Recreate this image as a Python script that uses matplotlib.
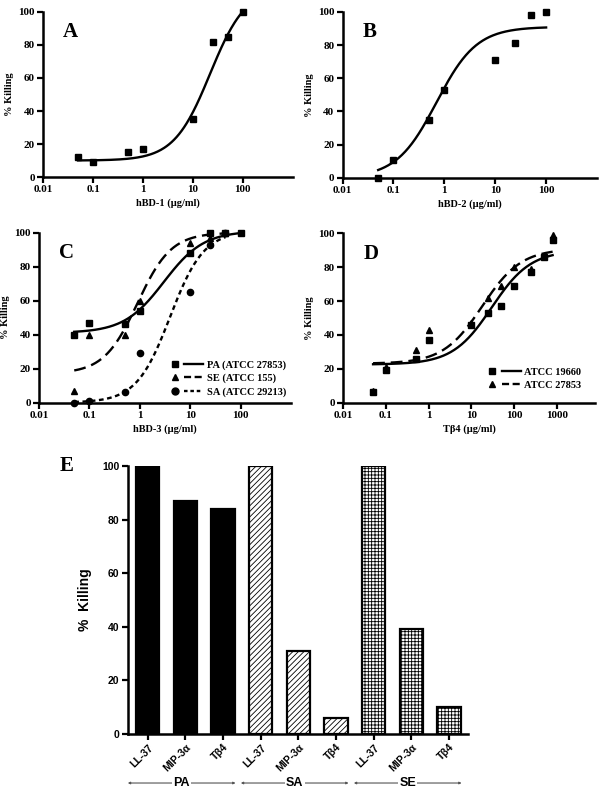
import numpy as np
import matplotlib.pyplot as plt
from matplotlib.lines import Line2D
from matplotlib.legend_handler import HandlerTuple
from matplotlib.ticker import NullLocator

# fit params are [bottom, top, EC50, hill] of the sigmoid fit
# panel A, hBD-1
a_conc = [0.05, 0.1, 0.5, 1, 10, 25, 50, 100]
a_kill = [12, 9, 15, 17, 35, 82, 85, 100]
a_fit = [10, 115, 22, 1.2]

# panel B, hBD-2
b_conc = [0.05, 0.1, 0.5, 1, 10, 25, 50, 100]
b_kill = [0, 11, 35, 53, 71, 81, 98, 100]
b_fit = [0, 91, 0.7, 1.1]

# panel C, hBD-3
c_pa_conc = [0.05, 0.1, 0.5, 1, 10, 25, 50, 100]
c_pa_kill = [40, 47, 46, 54, 88, 100, 100, 100]
c_pa_fit = [41, 101, 3, 1.1]
c_se_conc = [0.05, 0.1, 0.5, 1, 10, 25, 50]
c_se_kill = [7, 40, 40, 60, 94, 97, 100]
c_se_fit = [17, 100, 0.9, 1.3]
c_sa_conc = [0.05, 0.1, 0.5, 1, 10, 25, 50]
c_sa_kill = [0, 1, 6, 29, 65, 93, 100]
c_sa_fit = [0, 101, 4, 1.3]
c_labels = ['PA (ATCC 27853)', 'SE (ATCC 155)', 'SA (ATCC 29213)']

# panel D, Tb4
d_sq_conc = [0.05, 0.1, 0.5, 1, 10, 25, 50, 100, 250, 500, 800]
d_sq_kill = [6, 19, 26, 37, 46, 53, 57, 69, 77, 86, 96]
d_sq_fit = [22.5, 90, 30, 0.95]
d_tr_conc = [0.05, 0.1, 0.5, 1, 10, 25, 50, 100, 250, 800]
d_tr_kill = [7, 21, 31, 43, 47, 62, 69, 80, 79, 99]
d_tr_fit = [23, 91, 18, 0.95]
d_labels = ['ATCC 19660', 'ATCC 27853']

# panel E
e_peptides = ['LL-37', 'MIP-3α', 'Tβ4'] * 3
e_groups = ['PA', 'SA', 'SE']
e_kill = [100, 87, 84, 100, 31, 6, 100, 39, 10]

SERIF = 'Liberation Serif'
SANS = 'Liberation Sans'


def sigmoid(x, p):
    bottom, top, ec50, hill = p
    return bottom + (top - bottom) / (1 + (ec50 / x) ** hill)


def fit_line(ax, conc, p, ls):
    xs = np.logspace(np.log10(conc[0]), np.log10(conc[-1]), 200)
    ax.plot(xs, sigmoid(xs, p), color='black', lw=1.7, ls=ls, clip_on=False)


def style_log_axes(ax, xlabel, letter, xmax=1000, xticks=(0.01, 0.1, 1, 10, 100)):
    ax.set_xscale('log')
    ax.set_xlim(0.01, xmax)
    ax.set_ylim(0, 100)
    ax.set_xticks(list(xticks))
    ax.set_xticklabels([('%g' % t) for t in xticks])
    ax.xaxis.set_minor_locator(NullLocator())
    ax.set_yticks([0, 20, 40, 60, 80, 100])
    for s in ['top', 'right']:
        ax.spines[s].set_visible(False)
    for s in ['left', 'bottom']:
        ax.spines[s].set_linewidth(1.8)
    ax.tick_params(width=1.6, length=4, labelsize=8, pad=2)
    for lab in ax.get_xticklabels() + ax.get_yticklabels():
        lab.set_fontfamily(SERIF)
        lab.set_fontweight('bold')
    ax.set_xlabel(xlabel, fontsize=7.5, fontfamily=SERIF, fontweight='bold', labelpad=3)
    ax.set_ylabel('% Killing', fontsize=7.5, fontfamily=SERIF, fontweight='bold', labelpad=3)
    ax.text(0.08, 0.94, letter, transform=ax.transAxes, fontsize=15,
            fontfamily=SERIF, fontweight='bold', va='top')


fig = plt.figure(figsize=(6, 7.94), dpi=100)

# A
ax = fig.add_axes([0.072, 0.777, 0.416, 0.208])
ax.plot(a_conc, a_kill, 's', color='black', ms=5, clip_on=False)
fit_line(ax, a_conc, a_fit, '-')
style_log_axes(ax, 'hBD-1 (µg/ml)', 'A')

# B
ax = fig.add_axes([0.571, 0.776, 0.424, 0.209])
ax.plot(b_conc, b_kill, 's', color='black', ms=5, clip_on=False)
fit_line(ax, b_conc, b_fit, '-')
style_log_axes(ax, 'hBD-2 (µg/ml)', 'B')

# C
ax = fig.add_axes([0.065, 0.493, 0.420, 0.214])
ax.plot(c_pa_conc, c_pa_kill, 's', color='black', ms=5, clip_on=False)
ax.plot(c_se_conc, c_se_kill, '^', color='black', ms=5, clip_on=False)
ax.plot(c_sa_conc, c_sa_kill, 'o', color='black', ms=4.5, clip_on=False)
fit_line(ax, c_pa_conc, c_pa_fit, '-')
fit_line(ax, c_se_conc, c_se_fit, (0, (5, 2.5)))
fit_line(ax, c_sa_conc, c_sa_fit, (0, (2, 1.5)))
style_log_axes(ax, 'hBD-3 (µg/ml)', 'C')
handles = []
for mk, ls in zip(['s', '^', 'o'], ['-', (0, (3, 1.5)), (0, (1.5, 1.2))]):
    m = Line2D([], [], marker=mk, color='black', ls='none', ms=5)
    l = Line2D([], [], color='black', lw=1.7, ls=ls)
    handles.append((m, l))
ax.legend(handles, c_labels, handler_map={tuple: HandlerTuple(ndivide=None, pad=0)},
          loc='lower right', bbox_to_anchor=(1.02, -0.02), frameon=False, handlelength=3.6,
          handletextpad=0.4, labelspacing=0.35,
          prop={'family': SERIF, 'weight': 'bold', 'size': 7.5})

# D
ax = fig.add_axes([0.572, 0.493, 0.420, 0.213])
ax.plot(d_sq_conc, d_sq_kill, 's', color='black', ms=5, clip_on=False)
ax.plot(d_tr_conc, d_tr_kill, '^', color='black', ms=5, clip_on=False)
fit_line(ax, d_sq_conc, d_sq_fit, '-')
fit_line(ax, d_tr_conc, d_tr_fit, (0, (5, 2.5)))
style_log_axes(ax, 'Tβ4 (µg/ml)', 'D', xmax=10 ** 3.9,
               xticks=(0.01, 0.1, 1, 10, 100, 1000))
handles = []
for mk, ls in zip(['s', '^'], ['-', (0, (3, 1.5))]):
    m = Line2D([], [], marker=mk, color='black', ls='none', ms=5)
    l = Line2D([], [], color='black', lw=1.7, ls=ls)
    handles.append((m, l))
ax.legend(handles, d_labels, handler_map={tuple: HandlerTuple(ndivide=None, pad=0)},
          loc='lower right', bbox_to_anchor=(0.98, 0.02), frameon=False, handlelength=3.6,
          handletextpad=0.3, labelspacing=0.35,
          prop={'family': SERIF, 'weight': 'bold', 'size': 7.5})

# E
ax = fig.add_axes([0.213, 0.0756, 0.567, 0.3375])
x = np.arange(len(e_kill))
hatches = [None] * 3 + ['//////'] * 3 + ['+++++'] * 3
colors = ['black'] * 3 + ['white'] * 6
plt.rcParams['hatch.linewidth'] = 0.6
for xi, v, c, h in zip(x, e_kill, colors, hatches):
    ax.bar(xi, v, width=0.62, color=c, edgecolor='black', linewidth=1.6, hatch=h)
ax.set_xlim(-0.53, 8.5)
ax.set_ylim(0, 100)
ax.set_yticks([0, 20, 40, 60, 80, 100])
ax.set_xticks(x)
ax.set_xticklabels(e_peptides, rotation=45, ha='right', rotation_mode='anchor')
for s in ['top', 'right']:
    ax.spines[s].set_visible(False)
for s in ['left', 'bottom']:
    ax.spines[s].set_linewidth(1.8)
ax.tick_params(width=1.6, length=4, labelsize=7.5, pad=2)
for lab in ax.get_xticklabels() + ax.get_yticklabels():
    lab.set_fontfamily(SANS)
    lab.set_fontweight('bold')
ax.set_ylabel('%  Killing', fontsize=10, fontfamily=SANS, fontweight='bold', labelpad=7)
ax.text(-0.2, 1.0, 'E', transform=ax.transAxes, fontsize=15, fontfamily=SERIF,
        fontweight='bold', va='center')
for g, name in enumerate(e_groups):
    x0 = 3 * g - 0.53
    x1 = 3 * g + 2.33
    ax.annotate('', xy=(x0, -0.183), xytext=(x1, -0.183),
                xycoords=('data', 'axes fraction'), textcoords=('data', 'axes fraction'),
                arrowprops=dict(arrowstyle='<|-|>', color='#555555', lw=0.8,
                                mutation_scale=3, shrinkA=0, shrinkB=0),
                annotation_clip=False)
    ax.text((x0 + x1) / 2, -0.183, name, transform=ax.get_xaxis_transform(),
            ha='center', va='center', fontsize=9, fontfamily=SANS, fontweight='bold',
            bbox=dict(facecolor='white', edgecolor='none', pad=1))

fig.savefig('out.png', dpi=100)
